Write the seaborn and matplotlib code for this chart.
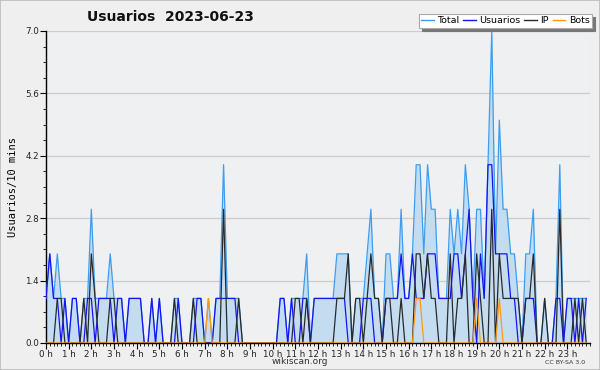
import numpy as np
import pandas as pd
import matplotlib
matplotlib.use("Agg")
import matplotlib.pyplot as plt
import seaborn as sns
from matplotlib.ticker import MultipleLocator
from matplotlib.lines import Line2D

# 10-minute slots, 6 per hour, 24 hours
usuarios = [1, 2, 1, 1, 0, 1,  0, 1, 1, 0, 0, 1,  1, 0, 1, 1, 1, 1,  0, 1, 1, 0, 1, 1,
            1, 1, 0, 0, 1, 0,  1, 0, 0, 0, 0, 1,  0, 0, 0, 0, 1, 1,  0, 0, 0, 1, 1, 1,
            1, 1, 1, 0, 0, 0,  0, 0, 0, 0, 0, 0,  0, 0, 1, 1, 0, 1,  0, 0, 1, 1, 0, 1,
            1, 1, 1, 1, 1, 1,  1, 1, 0, 0, 0, 0,  1, 1, 1, 0, 0, 0,  1, 1, 1, 1, 2, 1,
            1, 2, 1, 1, 1, 2,  2, 2, 1, 1, 1, 1,  2, 2, 1, 2, 3, 1,  0, 2, 1, 4, 4, 2,
            2, 2, 2, 1, 1, 0,  0, 1, 1, 1, 0, 0,  0, 0, 0, 1, 1, 0,  1, 1, 0, 1, 0, 1]
ip       = [0, 0, 0, 1, 1, 0,  0, 0, 0, 0, 1, 0,  2, 1, 0, 0, 0, 1,  1, 0, 0, 0, 0, 0,
            0, 0, 0, 0, 0, 0,  0, 0, 0, 0, 1, 0,  0, 0, 0, 1, 0, 0,  0, 0, 0, 0, 0, 3,
            0, 0, 0, 1, 0, 0,  0, 0, 0, 0, 0, 0,  0, 0, 0, 0, 0, 0,  1, 1, 0, 1, 0, 0,
            0, 0, 0, 0, 0, 1,  1, 1, 2, 0, 1, 1,  0, 1, 2, 1, 1, 0,  1, 1, 0, 0, 1, 0,
            0, 0, 2, 2, 1, 2,  1, 1, 0, 0, 0, 2,  0, 1, 1, 2, 0, 0,  2, 1, 0, 0, 3, 0,
            2, 1, 1, 1, 1, 1,  0, 1, 1, 2, 0, 0,  1, 0, 0, 0, 3, 0,  0, 0, 1, 0, 1, 0]
bots     = [0, 0, 0, 0, 0, 0,  0, 0, 0, 0, 0, 0,  0, 0, 0, 0, 0, 0,  0, 0, 0, 0, 0, 0,
            0, 0, 0, 0, 0, 0,  0, 0, 0, 0, 0, 0,  0, 0, 0, 0, 0, 0,  0, 1, 0, 0, 0, 0,
            0, 0, 0, 0, 0, 0,  0, 0, 0, 0, 0, 0,  0, 0, 0, 0, 0, 0,  0, 0, 0, 0, 0, 0,
            0, 0, 0, 0, 0, 0,  0, 0, 0, 0, 0, 0,  0, 0, 0, 0, 0, 0,  0, 0, 0, 0, 0, 0,
            0, 0, 1, 1, 0, 0,  0, 0, 0, 0, 0, 0,  0, 0, 0, 0, 0, 0,  1, 0, 0, 0, 0, 0,
            1, 0, 0, 0, 0, 0,  0, 0, 0, 0, 0, 0,  0, 0, 0, 0, 0, 0,  0, 0, 0, 0, 0, 0]
total    = [1, 2, 1, 2, 1, 1,  0, 1, 1, 0, 1, 1,  3, 1, 1, 1, 1, 2,  1, 1, 1, 0, 1, 1,
            1, 1, 0, 0, 1, 0,  1, 0, 0, 0, 1, 1,  0, 0, 0, 1, 1, 1,  0, 1, 0, 1, 1, 4,
            1, 1, 1, 1, 0, 0,  0, 0, 0, 0, 0, 0,  0, 0, 1, 1, 0, 1,  1, 1, 1, 2, 0, 1,
            1, 1, 1, 1, 1, 2,  2, 2, 2, 0, 1, 1,  1, 2, 3, 1, 1, 0,  2, 2, 1, 1, 3, 1,
            1, 2, 4, 4, 2, 4,  3, 3, 1, 1, 1, 3,  2, 3, 2, 4, 3, 1,  3, 3, 1, 4, 7, 2,
            5, 3, 3, 2, 2, 1,  0, 2, 2, 3, 0, 0,  1, 0, 0, 1, 4, 0,  1, 1, 1, 1, 1, 1]

hour_labels = [f"{h} h" for h in range(24)]
series_names = ["Total", "Usuarios", "IP", "Bots"]
colors = {"Total": "#3d9df0", "Usuarios": "#1414f0", "IP": "#2a2a2a", "Bots": "#ff9a10"}

hours = np.arange(len(total)) / 6.0
df = pd.DataFrame({"hora": np.tile(hours, 4),
                   "valor": total + usuarios + ip + bots,
                   "serie": np.repeat(series_names, len(total))})

W, H = 600, 370
fig = plt.figure(figsize=(W / 100, H / 100), dpi=100, facecolor="#efefef")
ax = fig.add_axes([46 / W, 1 - 343 / H, 544 / W, 312 / H])
ax.set_facecolor("#eef0f2")

ax.fill_between(hours, total, 0, color="#c4dcf0", lw=0, zorder=1)
sns.lineplot(data=df, x="hora", y="valor", hue="serie", hue_order=series_names,
             palette=colors, linewidth=0.9, ax=ax, legend=False, zorder=3,
             estimator=None, sort=False)

ax.set_xlim(0, 24)
ax.set_ylim(0, 7.0)
ax.set_yticks([0, 1.4, 2.8, 4.2, 5.6, 7.0])
ax.set_yticklabels(["0.0", "1.4", "2.8", "4.2", "5.6", "7.0"])
ax.yaxis.set_minor_locator(MultipleLocator(0.35))
ax.set_xticks(range(24))
ax.set_xticklabels(hour_labels)
ax.xaxis.set_minor_locator(MultipleLocator(1 / 6))
ax.tick_params(axis="both", which="major", labelsize=6.3, length=4, width=0.8,
               color="black", labelcolor="#222222", pad=1)
ax.tick_params(axis="both", which="minor", length=2.5, width=0.6, color="black")
ax.grid(axis="y", which="major", color="#cccccc", lw=0.9, zorder=0)
ax.set_axisbelow(True)
for s in ["top", "right"]:
    ax.spines[s].set_visible(False)
for s in ["left", "bottom"]:
    ax.spines[s].set_color("black")
    ax.spines[s].set_linewidth(1.0)
ax.set_xlabel("")
ax.set_ylabel("Usuarios/10 mins", fontsize=7.5, family="DejaVu Sans Mono", labelpad=5)

fig.text(170 / W, 1 - 17 / H, "Usuarios  2023-06-23", fontsize=10, fontweight="bold",
         ha="center", va="center", color="#111111")
fig.text(300 / W, 1 - 362 / H, "wikiscan.org", fontsize=6.5, ha="center", va="center",
         color="#333333")
fig.text(565 / W, 1 - 362 / H, "CC BY-SA 3.0", fontsize=4.5, ha="center", va="center",
         color="#333333")

handles = [Line2D([], [], color=colors[n], lw=1.0) for n in series_names]
leg = fig.legend(handles, series_names, ncol=4, loc="upper right",
                 bbox_to_anchor=(592 / W, 1 - 14 / H), fontsize=6.8, frameon=True,
                 fancybox=False, shadow={"color": "#777777", "alpha": 1},
                 handlelength=1.3, handletextpad=0.4, columnspacing=0.4,
                 borderpad=0.25, borderaxespad=0)
leg.get_frame().set_edgecolor("#aaaaaa")
leg.get_frame().set_linewidth(0.8)

border = plt.Rectangle((0, 0), 1, 1, transform=fig.transFigure, fill=False,
                       edgecolor="#bbbbbb", lw=1.2)
fig.patches.append(border)

fig.savefig("out.png", dpi=100, facecolor=fig.get_facecolor())
